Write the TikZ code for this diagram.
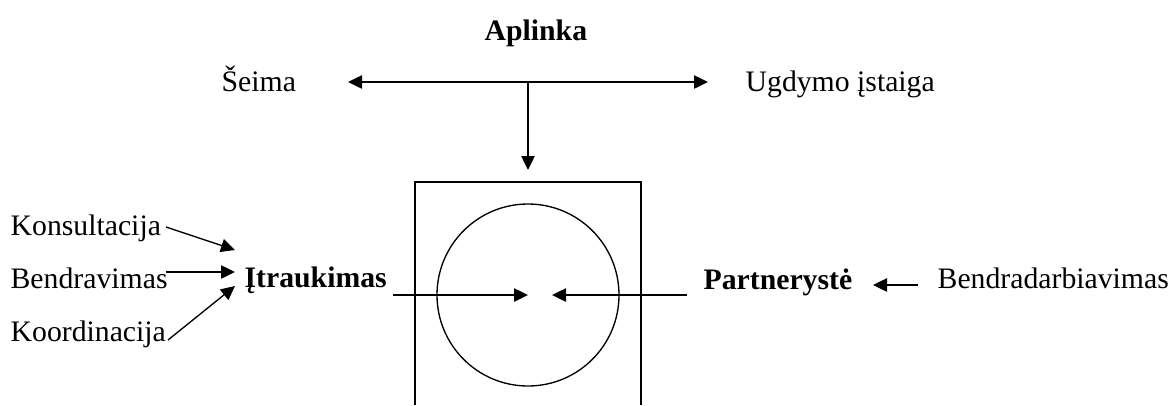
\documentclass[tikz,border=0pt]{standalone}
\usepackage{fontspec}
\setmainfont{Liberation Serif}
\usetikzlibrary{arrows.meta}

\tikzset{every picture/.style={line width=1pt}}
\tikzset{
  lbl/.style={anchor=base west,inner sep=0pt,font=\fontsize{22.3pt}{26pt}\selectfont},
  blbl/.style={lbl,font=\fontsize{22.3pt}{26pt}\selectfont\bfseries},
  arr/.style={-{Triangle[length=10.5pt,width=10pt]}},
}

\begin{document}
\begin{tikzpicture}[x=0.75pt,y=0.75pt,yscale=-1,xscale=1]
	\useasboundingbox (0,0) rectangle (1175,405);

	% Text Node
	\node [blbl] (aplinka) at (484,40) {Aplinka};
	% Text Node
	\node [lbl] (seima) at (221,91) {Šeima};
	% Text Node
	\node [lbl] (ugdymo) at (745,91) {Ugdymo įstaiga};
	% Text Node
	\node [lbl] (konsult) at (10,235) {Konsultacija};
	% Text Node
	\node [lbl] (bendrav) at (10,288) {Bendravimas};
	% Text Node
	\node [lbl] (koord) at (10,341) {Koordinacija};
	% Text Node
	\node [blbl] (itrauk) at (244,287) {Įtraukimas};
	% Text Node
	\node [blbl] (partner) at (703,289) {Partnerystė};
	% Text Node
	\node [lbl] (bendradarb) at (937,288) {Bendradarbiavimas};

	% arrow ends
	\coordinate (seimaTip) at (348,82);
	\coordinate (ugdymoTip) at (708,82);
	\coordinate (split) at (528,82);
	\coordinate (boxTip) at (528,170);
	\coordinate (konsultOut) at (166,227);
	\coordinate (konsultIn) at (235,250);
	\coordinate (bendravOut) at (166,272);
	\coordinate (bendravIn) at (235,272);
	\coordinate (koordOut) at (168,340);
	\coordinate (koordIn) at (235,286);
	\coordinate (itraukOut) at (393,295);
	\coordinate (itraukTip) at (528,295);
	\coordinate (partnerOut) at (687,295);
	\coordinate (partnerTip) at (552,295);
	\coordinate (bendradarbOut) at (918,285);
	\coordinate (partnerIn) at (873,285);

	%Rectangle (open at the bottom)
	\draw (415,405) -- (415,182) -- (641,182) -- (641,405);
	%Circle
	\draw (528,295) circle [radius=68.25pt];

	%Straight Lines
	\draw [{Triangle[length=10.5pt,width=10pt]}-{Triangle[length=10.5pt,width=10pt]}] (seimaTip) -- (ugdymoTip);
	\draw [arr] (split) -- (boxTip);
	\draw [arr] (konsultOut) -- (konsultIn);
	\draw [arr] (bendravOut) -- (bendravIn);
	\draw [arr] (koordOut) -- (koordIn);
	\draw [arr] (itraukOut) -- (itraukTip);
	\draw [arr] (partnerOut) -- (partnerTip);
	\draw [arr] (bendradarbOut) -- (partnerIn);

\end{tikzpicture}
\end{document}
